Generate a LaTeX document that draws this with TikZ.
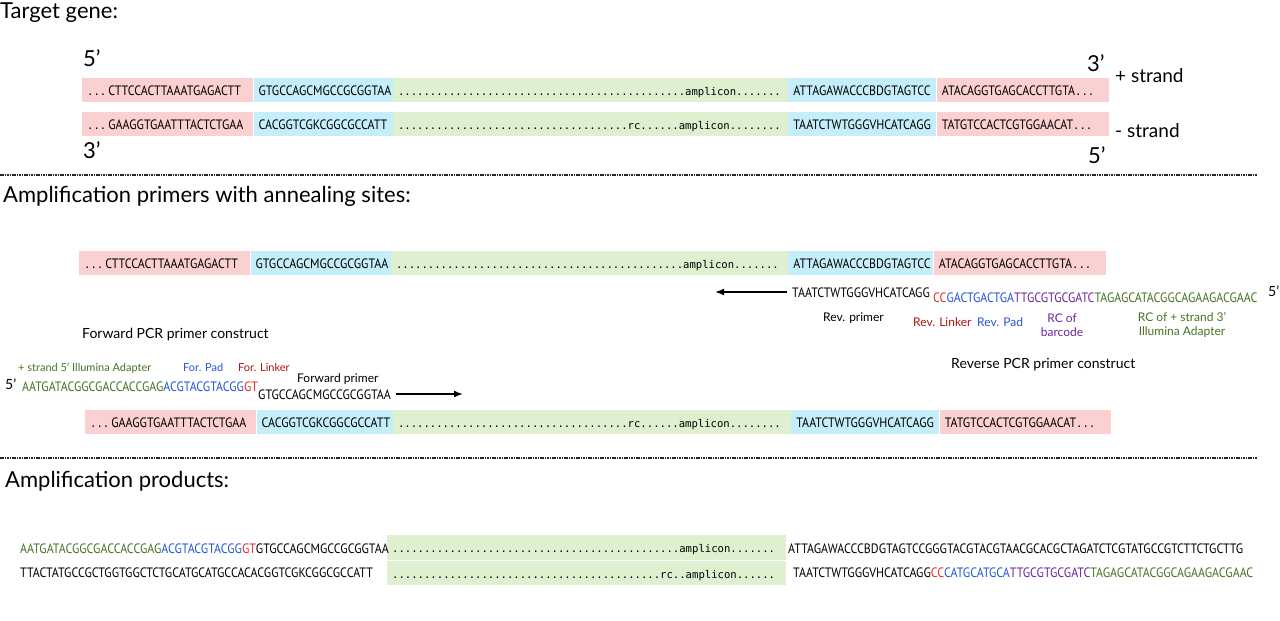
\documentclass[tikz,border=0pt]{standalone}
\usepackage{fontspec}
\setmainfont{Lato}
\newfontfamily\seqf[FakeStretch=0.88]{PT Sans}
\newfontfamily\monof{DejaVu Sans Mono}
\usetikzlibrary{arrows.meta}
\definecolor{pinkc}{RGB}{250,208,208}
\definecolor{bluec}{RGB}{196,238,250}
\definecolor{greenc}{RGB}{222,240,208}
\definecolor{sgreen}{RGB}{70,115,35}
\definecolor{sblue}{RGB}{35,85,215}
\definecolor{sred}{RGB}{225,45,35}
\definecolor{spurple}{RGB}{110,35,160}
\definecolor{lred}{RGB}{170,20,20}
\newcommand\SF{\fontsize{13.6}{16}\seqf}
\newcommand\MF{\fontsize{10.6}{12}\monof}
\newcommand\DOTS{{\MF...}\hspace{2pt}}
\newcommand\G[1]{\textcolor{sgreen}{#1}}
\newcommand\B[1]{\textcolor{sblue}{#1}}
\newcommand\R[1]{\textcolor{sred}{#1}}
\newcommand\PU[1]{\textcolor{spurple}{#1}}
\tikzset{
  seg/.style={fill=#1, anchor=west, minimum height=24, inner xsep=5, inner ysep=0,
    align=left, text height=10, text depth=0, font=\SF},
  seqt/.style={anchor=base west, inner sep=0, text height=10, text depth=0, font=\SF},
  head/.style={anchor=base west, inner sep=0, font=\fontsize{22}{26}\selectfont},
  prime/.style={anchor=base west, inner sep=0, font=\fontsize{22}{26}\selectfont},
  sprime/.style={anchor=base west, inner sep=0, font=\fontsize{14}{16}\selectfont},
  strandlab/.style={anchor=base west, inner sep=0, font=\fontsize{19}{22}\selectfont},
  lab/.style={anchor=base west, inner sep=0, font=\fontsize{12}{14}\selectfont},
  clab/.style={anchor=center, inner sep=0, align=center, font=\fontsize{12}{14}\selectfont},
  biglab/.style={anchor=base west, inner sep=0, font=\fontsize{14}{16}\selectfont},
  sep/.style={draw=black!85, line width=1.8pt, dash pattern=on 1.6pt off 0.8pt},
  arr/.style={-{Latex[length=9pt,width=7pt]}, line width=1.6pt}
}
\begin{document}
\begin{tikzpicture}[x=1pt,y=-1pt]
\useasboundingbox (0,0) rectangle (1280,621);
% ---------------- Section 1
\node[head] (h1) at (0,18) {Target gene:};
\node[prime] (p5a) at (83,66) {5’};
\node[prime] (p3a) at (1087,71) {3’};
\node[strandlab] (ps) at (1115,82) {+ strand};
\node[strandlab] (ms) at (1115,137) {- strand};
\node[prime] (p3b) at (83,158) {3’};
\node[prime] (p5b) at (1088,163) {5’};

\node[seg=pinkc, text width=161] (a1) at (82,90) {\DOTS CTTCCACTTAAATGAGACTT};
\node[seg=bluec, text width=129] (a2) at (a1.east) {GTGCCAGCMGCCGCGGTAA};
\node[seg=greenc, text width=385] (a3) at (a2.east) {{\MF .............................................amplicon.......}};
\node[seg=bluec, text width=138] (a4) at (a3.east) {ATTAGAWACCCBDGTAGTCC};
\node[seg=pinkc, text width=162] (a5) at (a4.east) {ATACAGGTGAGCACCTTGTA{\MF...}};

\node[seg=pinkc, text width=161] (b1) at (82,124) {\DOTS GAAGGTGAATTTACTCTGAA};
\node[seg=bluec, text width=129] (b2) at (b1.east) {CACGGTCGKCGGCGCCATT};
\node[seg=greenc, text width=385] (b3) at (b2.east) {{\MF ....................................rc......amplicon........}};
\node[seg=bluec, text width=138] (b4) at (b3.east) {TAATCTWTGGGVHCATCAGG};
\node[seg=pinkc, text width=162] (b5) at (b4.east) {TATGTCCACTCGTGGAACAT{\MF...}};

\draw[sep] (0,175) -- (1257,175);

% ---------------- Section 2
\node[head] (h2) at (3,202) {Amplification primers with annealing sites:};

\node[seg=pinkc, text width=161] (c1) at (79,263) {\DOTS CTTCCACTTAAATGAGACTT};
\node[seg=bluec, text width=130] (c2) at (c1.east) {GTGCCAGCMGCCGCGGTAA};
\node[seg=greenc, text width=387] (c3) at (c2.east) {{\MF .............................................amplicon.......}};
\node[seg=bluec, text width=135] (c4) at (c3.east) {ATTAGAWACCCBDGTAGTCC};
\node[seg=pinkc, text width=162] (c5) at (c4.east) {ATACAGGTGAGCACCTTGTA{\MF...}};

\node[seqt] (rp) at (792,297) {TAATCTWTGGGVHCATCAGG};
\coordinate (rpend) at (715,292);
\draw[arr] ([xshift=-5pt]rp.west) -- (rpend);
\node[seqt] (rc) at (933,302) {\R{CC}\B{GACTGACTGA}\PU{TTGCGTGCGATC}\G{TAGAGCATACGGCAGAAGACGAAC}};
\node[sprime] (p5r) at (1268,296) {5’};

\node[lab] (lrp) at (823,321) {Rev. primer};
\node[lab, text=lred] (lrl) at (913,326) {Rev. Linker};
\node[lab, text=sblue] (lrpad) at (977,326) {Rev. Pad};
\node[clab, text=spurple] (lrbc) at (1062,325) {RC of\\barcode};
\node[clab, text=sgreen] (lrad) at (1182,325) {RC of + strand 3’\\Illumina Adapter};
\node[biglab] (rpc) at (951,368) {Reverse PCR primer construct};

\node[biglab] (fpc) at (82,338) {Forward PCR primer construct};
\node[lab, text=sgreen, font=\fontsize{11}{13}\selectfont] (lfa) at (18,371) {+ strand 5’ Illumina Adapter};
\node[lab, text=sblue, font=\fontsize{11}{13}\selectfont] (lfp) at (183,371) {For. Pad};
\node[lab, text=lred, font=\fontsize{11}{13}\selectfont] (lfl) at (238,371) {For. Linker};
\node[sprime] (p5f) at (5,389) {5’};
\node[seqt] (fc) at (22,391) {\G{AATGATACGGCGACCACCGAG}\B{ACGTACGTACGG}\R{GT}};
\node[lab] (lfpr) at (297,382) {Forward primer};
\node[seqt] (fp) at (258,399) {GTGCCAGCMGCCGCGGTAA};
\coordinate (fpend) at (463,394);
\draw[arr] ([xshift=5pt]fp.east) -- (fpend);

\node[seg=pinkc, text width=161] (d1) at (85,422) {\DOTS GAAGGTGAATTTACTCTGAA};
\node[seg=bluec, text width=126] (d2) at (d1.east) {CACGGTCGKCGGCGCCATT};
\node[seg=greenc, text width=388] (d3) at (d2.east) {{\MF ....................................rc......amplicon........}};
\node[seg=bluec, text width=138] (d4) at (d3.east) {TAATCTWTGGGVHCATCAGG};
\node[seg=pinkc, text width=161] (d5) at (d4.east) {TATGTCCACTCGTGGAACAT{\MF...}};

\draw[sep] (0,458) -- (1257,458);

% ---------------- Section 3
\node[head] (h3) at (5,487) {Amplification products:};

\node[seg=greenc, minimum height=25, text width=389] (g1) at (387,547.5) {{\MF .............................................amplicon.......}};
\node[seg=greenc, minimum height=24, text width=389] (g2) at (387,573) {{\MF ..........................................rc..amplicon......}};

\node[seqt] (l1) at (20,553) {\G{AATGATACGGCGACCACCGAG}\B{ACGTACGTACGG}\R{GT}GTGCCAGCMGCCGCGGTAA};
\node[seqt] (l2) at (20,577) {TTACTATGCCGCTGGTGGCTCTGCATGCATGCCACACGGTCGKCGGCGCCATT};
\node[seqt] (r1) at (788,553) {ATTAGAWACCCBDGTAGTCCGGGTACGTACGTAACGCACGCTAGATCTCGTATGCCGTCTTCTGCTTG};
\node[seqt] (r2) at (793,577) {TAATCTWTGGGVHCATCAGG\R{CC}\B{CATGCATGCA}\PU{TTGCGTGCGATC}\G{TAGAGCATACGGCAGAAGACGAAC}};
\end{tikzpicture}
\end{document}
